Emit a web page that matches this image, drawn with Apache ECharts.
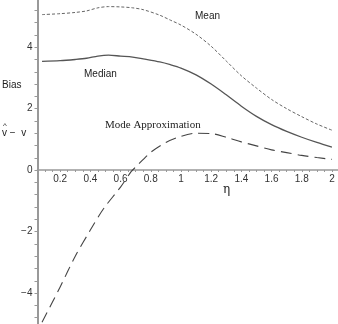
<!DOCTYPE html>
<html><head><meta charset="utf-8">
<script src="https://cdn.jsdelivr.net/npm/echarts@6/dist/echarts.min.js"></script>
<style>html,body{margin:0;padding:0;background:#fff}#c{width:338px;height:324px}</style>
</head><body><div id="c"></div>
<script>
const etaMean   = [0.08,0.2,0.3,0.375,0.45,0.52,0.6,0.68,0.75,0.86,0.93,1.0,1.1,1.2,1.3,1.4,1.5,1.6,1.7,1.8,1.9,2.0];
const meanVals  = [5.06,5.09,5.13,5.18,5.28,5.32,5.31,5.28,5.22,5.04,4.88,4.72,4.42,4.03,3.55,3.07,2.67,2.3,2.0,1.74,1.5,1.3];
const etaMedian = [0.08,0.2,0.3,0.375,0.45,0.52,0.6,0.68,0.75,0.86,0.93,1.0,1.1,1.2,1.3,1.4,1.5,1.6,1.7,1.8,1.9,2.0];
const medianVals= [3.54,3.56,3.6,3.64,3.71,3.74,3.71,3.68,3.62,3.52,3.43,3.32,3.1,2.8,2.45,2.08,1.75,1.48,1.26,1.07,0.9,0.75];
const etaMode   = [0.08,0.2,0.3,0.4,0.46,0.5,0.6,0.67,0.7,0.8,0.9,1.0,1.1,1.2,1.3,1.4,1.5,1.6,1.7,1.8,1.9,2.0];
const modeVals  = [-4.95,-3.8,-2.8,-1.95,-1.46,-1.17,-0.55,-0.05,0.1,0.58,0.9,1.1,1.2,1.19,1.07,0.92,0.79,0.66,0.57,0.48,0.41,0.35];
const xTickLabels = [0.2,0.4,0.6,0.8,1,1.2,1.4,1.6,1.8,2];
const yTickLabels = [-4,-2,0,2,4];

const zip = (a,b)=>a.map((x,i)=>[x,b[i]]);
const chart = echarts.init(document.getElementById('c'));
const font = 'Liberation Sans, Arial, sans-serif';
chart.setOption({
  animation:false,
  backgroundColor:'#fff',
  grid:{left:37.5, top:-2, width:302, height:332, outerBoundsMode:'none', containLabel:false},
  xAxis:{type:'value', min:0.05, max:2.05, interval:0.05, position:'bottom', offset:-160,
    axisLine:{onZero:false, lineStyle:{color:'#999', width:1.5}},
    axisTick:{show:true, length:2, lineStyle:{color:'#999'}},
    splitLine:{show:false},
    axisLabel:{interval:0, margin:4, fontSize:10, color:'#333', fontFamily:font,
      formatter:v=>{const r=Math.round(v*5)/5; return (Math.abs(v-r)<1e-6 && xTickLabels.some(t=>Math.abs(t-r)<1e-6))?String(+r.toFixed(1)):'';}}
  },
  yAxis:{type:'value', min:-5.2, max:5.6, interval:0.4,
    axisLine:{show:true, onZero:false, lineStyle:{color:'#999', width:2}},
    axisTick:{show:true, length:3, lineStyle:{color:'#999'}},
    splitLine:{show:false},
    axisLabel:{interval:0, margin:5, fontSize:10, color:'#333', fontFamily:font,
      formatter:v=>{const r=Math.round(v/2)*2; if(Math.abs(v-r)<1e-6 && yTickLabels.includes(r)) return r<0?'\u2212'+Math.abs(r):String(r); return '';}}
  },
  series:[
    {type:'line', data:zip(etaMean,meanVals), showSymbol:false, smooth:0.3,
      lineStyle:{color:'#666', width:1, type:[3,2]}},
    {type:'line', data:zip(etaMedian,medianVals), showSymbol:false, smooth:0.3,
      lineStyle:{color:'#555', width:1.3}},
    {type:'line', data:zip(etaMode,modeVals), showSymbol:false, smooth:0.3,
      lineStyle:{color:'#444', width:1.1, type:[11,6]}}
  ],
  graphic:[
    {type:'text', left:195, top:11, style:{text:'Mean', font:'10px '+font, fill:'#222'}},
    {type:'text', left:84, top:69, style:{text:'Median', font:'10px '+font, fill:'#222'}},
    {type:'text', left:105, top:120, style:{text:'Mode Approximation', font:'11px Liberation Serif, Times New Roman, serif', fill:'#222'}},
    {type:'text', left:2, top:80, style:{text:'Bias', font:'10px '+font, fill:'#222'}},
    {type:'text', left:3, top:122, style:{text:'^', font:'8px '+font, fill:'#222'}},
    {type:'text', left:2, top:128, style:{text:'v \u2212  v', font:'10px '+font, fill:'#222'}},
    {type:'text', left:223, top:184, style:{text:'\u03b7', font:'12px DejaVu Serif, serif', fill:'#222'}}
  ]
});
</script></body></html>
